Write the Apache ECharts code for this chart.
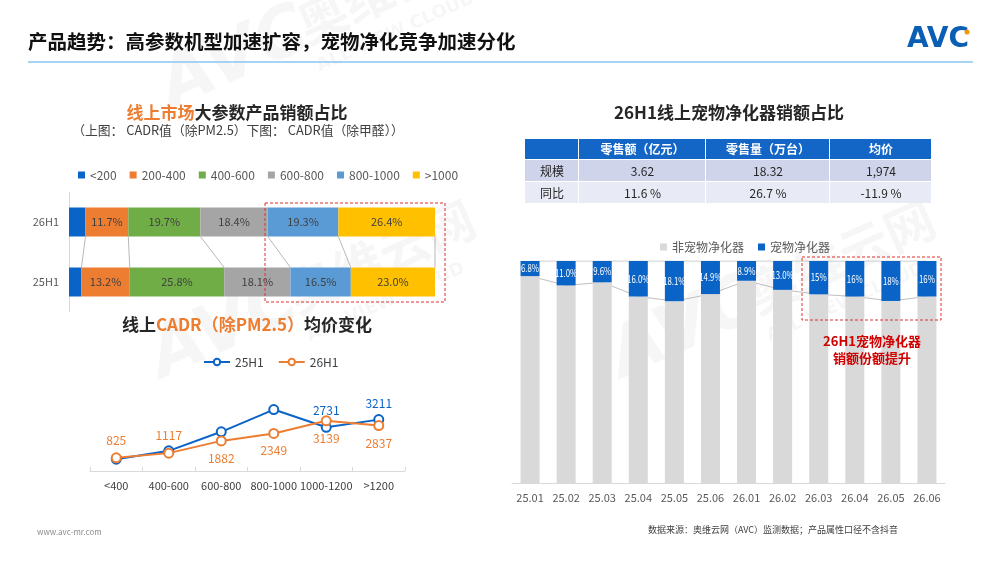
<!DOCTYPE html>
<html>
<head>
<meta charset="utf-8">
<script src="https://cdn.jsdelivr.net/npm/echarts@6/dist/echarts.min.js"></script>
<style>
html, body { margin: 0; padding: 0; background: #fff; }
#main { width: 1000px; height: 562px; }
</style>
</head>
<body>
<div id="main"></div>
<script>
// 左上：线上市场大参数产品销额占比（CADR 区间）
const periods = ['25H1', '26H1'];
const bandNames = ['<200', '200-400', '400-600', '600-800', '800-1000', '>1000'];
const share25 = [3.4, 13.2, 25.8, 18.1, 16.5, 23.0];
const share26 = [4.5, 11.7, 19.7, 18.4, 19.3, 26.4];

// 左下：线上 CADR（除PM2.5）均价变化
const priceBands = ['<400', '400-600', '600-800', '800-1000', '1000-1200', '>1200'];
const price25 = [740, 1260, 2450, 3840, 2731, 3211];
const price26 = [825, 1117, 1882, 2349, 3139, 2837];

// 右侧：宠物净化器销额占比（月度）
const months = ['25.01', '25.02', '25.03', '25.04', '25.05', '25.06', '26.01', '26.02', '26.03', '26.04', '26.05', '26.06'];
const petShare = [6.8, 11.0, 9.6, 16.0, 18.1, 14.9, 8.9, 13.0, 15, 16, 18, 16];
const petLabels = ['6.8%', '11.0%', '9.6%', '16.0%', '18.1%', '14.9%', '8.9%', '13.0%', '15%', '16%', '18%', '16%'];

// 右上表格
const tableHead = ['', '零售额（亿元）', '零售量（万台）', '均价'];
const tableRows = [
	['规模', '3.62', '18.32', '1,974'],
	['同比', '11.6 %', '26.7 %', '-11.9 %']
];

const FONT = '"Noto Sans CJK SC", "Noto Sans", sans-serif';
const bandColors = ['#0a64c8', '#ed7d31', '#70ad47', '#a5a5a5', '#5b9bd5', '#ffc000'];
const BLUE = '#0a64c8';
const ORANGE = '#ed7d31';

const nonPetShare = petShare.map(v => +(100 - v).toFixed(1));
const topLine = petShare.map((v, i) => v + nonPetShare[i]);

// 累计边界，用于两根条之间的连接线
function cumulative(arr) {
	let s = 0;
	return arr.map(v => (s += v));
}
const cum25 = cumulative(share25);
const cum26 = cumulative(share26);
const BAR_W = 29;

const chart = echarts.init(document.getElementById('main'), null, { renderer: 'canvas' });

const series = [];
bandNames.forEach((name, i) => {
	series.push({
		type: 'bar',
		name: name,
		stack: 'band',
		xAxisIndex: 0,
		yAxisIndex: 0,
		barWidth: BAR_W,
		itemStyle: { color: bandColors[i] },
		label: {
			show: i > 0,
			position: 'inside',
			color: '#404040',
			fontSize: 11,
			fontFamily: FONT,
			formatter: p => p.value.toFixed(1) + '%'
		},
		data: [share25[i], share26[i]]
	});
});
series.push({
	type: 'custom',
	name: 'connector',
	xAxisIndex: 0,
	yAxisIndex: 0,
	silent: true,
	encode: { x: [0, 1], y: 2 },
	data: cum26.map((v, i) => [v, cum25[i], 0]),
	renderItem: function (params, api) {
		const a = api.coord([api.value(0), 1]);
		const b = api.coord([api.value(1), 0]);
		return {
			type: 'line',
			shape: { x1: a[0], y1: a[1] + BAR_W / 2, x2: b[0], y2: b[1] - BAR_W / 2 },
			style: { stroke: '#a6a6a6', lineWidth: 0.8 }
		};
	}
});

const label25Pos = ['top', 'top', 'top', 'top', 'top', 'top'];
const label26Pos = ['top', 'top', 'bottom', 'bottom', 'bottom', 'bottom'];
series.push({
	type: 'line',
	name: '25H1',
	xAxisIndex: 1,
	yAxisIndex: 1,
	symbol: 'emptyCircle',
	symbolSize: 9,
	color: BLUE,
	lineStyle: { width: 2, color: BLUE },
	label: { color: BLUE, fontSize: 12, fontFamily: FONT, distance: 5 },
	data: price25.map((v, i) => ({ value: v, label: { show: i >= 4, position: label25Pos[i] } }))
});
series.push({
	type: 'line',
	name: '26H1',
	xAxisIndex: 1,
	yAxisIndex: 1,
	symbol: 'emptyCircle',
	symbolSize: 9,
	color: ORANGE,
	lineStyle: { width: 2, color: ORANGE },
	label: { color: ORANGE, fontSize: 12, fontFamily: FONT, distance: 6 },
	data: price26.map((v, i) => ({ value: v, label: { show: true, position: label26Pos[i] } }))
});

series.push({
	type: 'line',
	name: 'gapLine',
	xAxisIndex: 2,
	yAxisIndex: 2,
	symbol: 'none',
	silent: true,
	z: 1,
	lineStyle: { width: 1, color: '#bfbfbf' },
	data: nonPetShare
});
series.push({
	type: 'line',
	name: 'topLine',
	xAxisIndex: 2,
	yAxisIndex: 2,
	symbol: 'none',
	silent: true,
	z: 1,
	lineStyle: { width: 1, color: '#bfbfbf' },
	data: topLine
});
series.push({
	type: 'bar',
	name: '非宠物净化器',
	stack: 'pet',
	xAxisIndex: 2,
	yAxisIndex: 2,
	barWidth: 19,
	z: 3,
	itemStyle: { color: '#d9d9d9' },
	data: nonPetShare
});
series.push({
	type: 'bar',
	name: '宠物净化器',
	stack: 'pet',
	xAxisIndex: 2,
	yAxisIndex: 2,
	barWidth: 19,
	z: 3,
	itemStyle: { color: BLUE },
	data: petShare
});
// 蓝色段内的窄体白字标签（横向压缩以放进细柱）
series.push({
	type: 'custom',
	name: 'petLabel',
	xAxisIndex: 2,
	yAxisIndex: 2,
	silent: true,
	z: 5,
	data: petShare.map((v, i) => [i, nonPetShare[i], nonPetShare[i] + v]),
	encode: { x: 0, y: [1, 2] },
	renderItem: function (params, api) {
		const lo = api.coord([api.value(0), api.value(1)]);
		const hi = api.coord([api.value(0), api.value(2)]);
		return {
			type: 'text',
			x: lo[0],
			y: (lo[1] + hi[1]) / 2,
			scaleX: 0.78,
			style: {
				text: petLabels[params.dataIndex],
				fill: '#fff',
				font: '10px ' + FONT,
				align: 'center',
				verticalAlign: 'middle'
			}
		};
	}
});

// 表格
const colX = [525, 579, 706, 830, 932];
const rowY = [139, 160, 182, 204];
const rowFill = ['#1466c6', '#cfd4ea', '#e8eaf5'];
const tableEls = [];
[tableHead].concat(tableRows).forEach((row, r) => {
	row.forEach((txt, c) => {
		const x0 = colX[c], x1 = colX[c + 1], y0 = rowY[r], y1 = rowY[r + 1];
		tableEls.push({
			type: 'rect',
			shape: { x: x0, y: y0, width: x1 - x0 - 1, height: y1 - y0 - 1 },
			style: { fill: rowFill[r] }
		});
		tableEls.push({
			type: 'text',
			x: (x0 + x1) / 2,
			y: (y0 + y1) / 2,
			style: {
				text: txt,
				fill: r === 0 ? '#fff' : '#262626',
				font: (r === 0 ? 'bold ' : '') + '12px ' + FONT,
				align: 'center',
				verticalAlign: 'middle'
			}
		});
	});
});

function watermark(x, y) {
	return {
		type: 'group',
		x: x,
		y: y,
		rotation: 0.42,
		silent: true,
		z: 50,
		children: [
			{ type: 'text', x: 0, y: 0, style: { text: 'AVC', font: 'italic bold 70px "DejaVu Sans"', fill: 'rgba(0,0,0,0.035)' } },
			{ type: 'text', x: 150, y: 6, style: { text: '奥维云网', font: 'bold 50px ' + FONT, fill: 'rgba(0,0,0,0.035)' } },
			{ type: 'text', x: 150, y: 66, style: { text: 'ALL VIEW CLOUD', font: 'bold 18px "DejaVu Sans"', fill: 'rgba(0,0,0,0.035)' } }
		]
	};
}

const option = {
	animation: false,
	backgroundColor: '#fff',
	textStyle: { fontFamily: FONT },
	grid: [
		{ left: 69, top: 192, width: 366, height: 120 },
		{ left: 90, top: 391, width: 315, height: 80 },
		{ left: 512, top: 261, width: 433, height: 222 }
	],
	xAxis: [
		{ gridIndex: 0, type: 'value', min: 0, max: 100, show: false },
		{
			gridIndex: 1, type: 'category', data: priceBands,
			axisLine: { lineStyle: { color: '#d9d9d9' } },
			axisTick: { show: true, inside: true, length: 4, lineStyle: { color: '#d9d9d9' } },
			axisLabel: { color: '#404040', fontSize: 11, margin: 9, interval: 0, fontFamily: FONT }
		},
		{
			gridIndex: 2, type: 'category', data: months,
			axisLine: { lineStyle: { color: '#d9d9d9' } },
			axisTick: { show: false },
			axisLabel: { color: '#595959', fontSize: 11, margin: 9, interval: 0, fontFamily: FONT }
		}
	],
	yAxis: [
		{
			gridIndex: 0, type: 'category', data: periods,
			axisLine: { show: true, lineStyle: { color: '#d9d9d9' } },
			axisTick: { show: false },
			axisLabel: { color: '#595959', fontSize: 11, margin: 10, fontFamily: FONT }
		},
		{ gridIndex: 1, type: 'value', min: 0, max: 5000, show: false },
		{ gridIndex: 2, type: 'value', min: 0, max: 100, show: false }
	],
	legend: [
		{
			data: bandNames,
			top: 164,
			left: 73,
			icon: 'rect',
			itemWidth: 7,
			itemHeight: 7,
			itemGap: 13,
			textStyle: { color: '#595959', fontSize: 12, fontFamily: FONT }
		},
		{
			data: ['25H1', '26H1'],
			top: 351,
			left: 198,
			itemWidth: 26,
			itemHeight: 8,
			itemGap: 14,
			textStyle: { color: '#404040', fontSize: 12, fontFamily: FONT }
		},
		{
			data: ['非宠物净化器', '宠物净化器'],
			top: 236,
			left: 655,
			icon: 'rect',
			itemWidth: 7,
			itemHeight: 7,
			itemGap: 14,
			textStyle: { color: '#595959', fontSize: 12, fontFamily: FONT }
		}
	],
	series: series,
	graphic: [
		watermark(150, 60),
		watermark(140, 330),
		watermark(600, 330),
		// 页眉
		{
			type: 'text', x: 28, y: 42,
			style: { text: '产品趋势：高参数机型加速扩容，宠物净化竞争加速分化', font: 'bold 19.5px ' + FONT, fill: '#111', verticalAlign: 'middle' }
		},
		{
			type: 'line', shape: { x1: 28, y1: 62, x2: 973, y2: 62 },
			style: { stroke: '#8cc4ee', lineWidth: 1.5 }
		},
		{
			type: 'text', x: 907, y: 40,
			style: { text: 'AVC', font: 'bold 28px "DejaVu Sans"', fill: '#0a5fb4', verticalAlign: 'middle' }
		},
		{ type: 'circle', shape: { cx: 967, cy: 32, r: 2.5 }, style: { fill: '#f39800' } },
		// 左上标题
		{
			type: 'text', x: 237, y: 113,
			style: {
				text: '{o|线上市场}{d|大参数产品销额占比}',
				align: 'center', verticalAlign: 'middle',
				rich: {
					o: { fill: ORANGE, font: 'bold 17px ' + FONT },
					d: { fill: '#262626', font: 'bold 17px ' + FONT }
				}
			}
		},
		{
			type: 'text', x: 238, y: 130,
			style: { text: '（上图： CADR值（除PM2.5）下图： CADR值（除甲醛））', font: '12.8px ' + FONT, fill: '#404040', align: 'center', verticalAlign: 'middle' }
		},
		// 左下标题
		{
			type: 'text', x: 247, y: 325,
			style: {
				text: '{d|线上}{o|CADR（除PM2.5）}{d|均价变化}',
				align: 'center', verticalAlign: 'middle',
				rich: {
					o: { fill: ORANGE, font: 'bold 17px ' + FONT },
					d: { fill: '#262626', font: 'bold 17px ' + FONT }
				}
			}
		},
		// 右侧标题
		{
			type: 'text', x: 729, y: 113,
			style: { text: '26H1线上宠物净化器销额占比', font: 'bold 17px ' + FONT, fill: '#262626', align: 'center', verticalAlign: 'middle' }
		},
		{ type: 'group', children: tableEls },
		// 红色虚线框与注释
		{
			type: 'rect', shape: { x: 265, y: 203, width: 180, height: 99 }, z: 100,
			style: { fill: 'none', stroke: '#e03030', lineWidth: 1, lineDash: [3, 2] }
		},
		{
			type: 'rect', shape: { x: 802, y: 257, width: 139, height: 63 }, z: 100,
			style: { fill: 'none', stroke: '#e03030', lineWidth: 1, lineDash: [3, 2] }
		},
		{
			type: 'text', x: 872, y: 350, z: 100,
			style: { text: '26H1宠物净化器\n销额份额提升', font: 'bold 13px ' + FONT, fill: '#d00000', align: 'center', verticalAlign: 'middle', lineHeight: 17 }
		},
		// 页脚
		{
			type: 'text', x: 37, y: 532,
			style: { text: 'www.avc-mr.com', font: '8px ' + FONT, fill: '#8c8c8c', verticalAlign: 'middle' }
		},
		{
			type: 'text', x: 773, y: 530,
			style: { text: '数据来源：奥维云网（AVC）监测数据；产品属性口径不含抖音', font: '9px ' + FONT, fill: '#404040', align: 'center', verticalAlign: 'middle' }
		}
	]
};

chart.setOption(option);
</script>
</body>
</html>
